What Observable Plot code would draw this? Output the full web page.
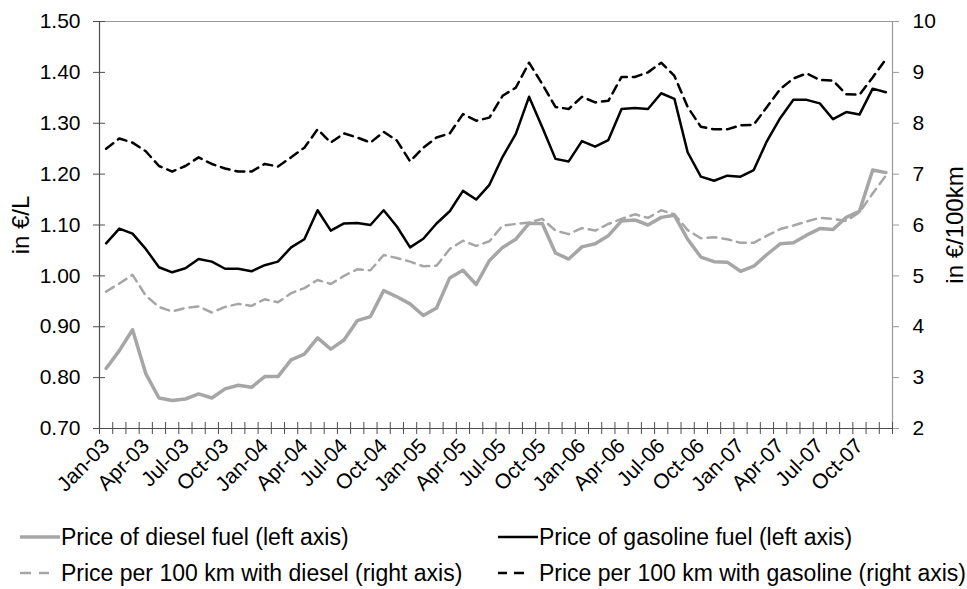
<!DOCTYPE html>
<html><head><meta charset="utf-8">
<script src="https://cdn.jsdelivr.net/npm/d3@7"></script>
<script src="https://cdn.jsdelivr.net/npm/@observablehq/plot@0.6"></script>
<style>
body{margin:0;background:#fff;font-family:"Liberation Sans",Arial,sans-serif;}
#wrap{position:relative;width:967px;height:589px;overflow:hidden;}
.leg{position:absolute;display:flex;align-items:center;font-size:23px;line-height:26px;color:#000;white-space:nowrap;}
.leg svg{margin-right:1px;}
</style></head><body><div id="wrap"></div>
<script>
const months = [
 "Jan-03","Feb-03","Mar-03","Apr-03","May-03","Jun-03","Jul-03","Aug-03","Sep-03","Oct-03","Nov-03","Dec-03",
 "Jan-04","Feb-04","Mar-04","Apr-04","May-04","Jun-04","Jul-04","Aug-04","Sep-04","Oct-04","Nov-04","Dec-04",
 "Jan-05","Feb-05","Mar-05","Apr-05","May-05","Jun-05","Jul-05","Aug-05","Sep-05","Oct-05","Nov-05","Dec-05",
 "Jan-06","Feb-06","Mar-06","Apr-06","May-06","Jun-06","Jul-06","Aug-06","Sep-06","Oct-06","Nov-06","Dec-06",
 "Jan-07","Feb-07","Mar-07","Apr-07","May-07","Jun-07","Jul-07","Aug-07","Sep-07","Oct-07","Nov-07","Dec-07"];
const xTickLabels = ["Jan-03","Apr-03","Jul-03","Oct-03","Jan-04","Apr-04","Jul-04","Oct-04","Jan-05","Apr-05",
 "Jul-05","Oct-05","Jan-06","Apr-06","Jul-06","Oct-06","Jan-07","Apr-07","Jul-07","Oct-07"];
const dieselPrice = [
 0.818,0.853,0.894,0.808,0.760,0.755,0.758,0.768,0.760,0.778,
 0.785,0.781,0.802,0.802,0.835,0.846,0.878,0.856,0.874,0.912,
 0.920,0.971,0.959,0.945,0.922,0.937,0.996,1.011,0.983,1.030,
 1.056,1.072,1.103,1.103,1.045,1.033,1.057,1.063,1.079,1.108,
 1.110,1.100,1.115,1.119,1.072,1.037,1.028,1.027,1.009,1.019,
 1.042,1.063,1.065,1.080,1.093,1.091,1.115,1.127,1.208,1.203];
const gasolinePrice = [
 1.064,1.093,1.083,1.053,1.017,1.007,1.015,1.033,1.028,1.014,
 1.014,1.009,1.021,1.028,1.056,1.072,1.129,1.089,1.103,1.104,
 1.100,1.129,1.097,1.056,1.073,1.103,1.127,1.167,1.150,1.179,
 1.234,1.279,1.352,1.292,1.230,1.225,1.265,1.254,1.267,1.328,
 1.330,1.328,1.359,1.348,1.243,1.195,1.187,1.197,1.195,1.208,
 1.265,1.310,1.346,1.346,1.339,1.308,1.322,1.317,1.368,1.361];
const dieselPer100 = [
 4.69,4.85,5.02,4.61,4.39,4.30,4.37,4.40,4.28,4.39,
 4.45,4.41,4.54,4.48,4.66,4.76,4.92,4.84,5.00,5.13,
 5.11,5.41,5.35,5.28,5.19,5.20,5.53,5.69,5.59,5.68,
 5.99,6.02,6.05,6.12,5.89,5.82,5.94,5.89,6.02,6.12,
 6.21,6.14,6.29,6.21,5.90,5.74,5.76,5.72,5.65,5.65,
 5.79,5.92,5.99,6.07,6.14,6.12,6.08,6.25,6.62,6.97];
const gasolinePer100 = [
 7.50,7.70,7.62,7.45,7.16,7.05,7.16,7.33,7.20,7.11,
 7.05,7.05,7.20,7.15,7.33,7.52,7.88,7.62,7.80,7.72,
 7.62,7.83,7.66,7.25,7.52,7.72,7.80,8.18,8.05,8.11,
 8.54,8.70,9.19,8.77,8.32,8.28,8.52,8.41,8.44,8.91,
 8.91,9.00,9.19,8.93,8.32,7.93,7.88,7.88,7.96,7.97,
 8.32,8.67,8.88,8.98,8.85,8.84,8.57,8.56,8.90,9.26];
const leftTicks = [0.70,0.80,0.90,1.00,1.10,1.20,1.30,1.40,1.50];
const rightTicks = [2,3,4,5,6,7,8,9,10];
const leftTitle = "in €/L";
const rightTitle = "in €/100km";
const legendItems = [
 {label:"Price of diesel fuel (left axis)", color:"#a6a6a6", dash:null, w:3.5, left:20, top:524},
 {label:"Price of gasoline fuel (left axis)", color:"#000", dash:null, w:2.5, left:498, top:524},
 {label:"Price per 100 km with diesel (right axis)", color:"#a6a6a6", dash:"11,8,10,100", w:2.5, left:20, top:560},
 {label:"Price per 100 km with gasoline (right axis)", color:"#000", dash:"9,7,10,100", w:2.5, left:498, top:560}
];

// right axis (2..10) shares the left axis (0.70..1.50) frame
const rightToLeft = r => 0.70 + (r - 2) * 0.10;

const idx = months.map((m, i) => i);
const rows = idx.map(i => ({i, m: months[i], d: dieselPrice[i], g: gasolinePrice[i],
  dr: rightToLeft(dieselPer100[i]), gr: rightToLeft(gasolinePer100[i])}));
const bounds = d3.range(0, months.length + 1).map(k => k - 0.5);
const labelIdx = xTickLabels.map(l => months.indexOf(l));

const axisColor = "#4d4d4d";
const frameGray = "#9a9a9a";

const chart = Plot.plot({
  width: 967, height: 500,
  marginLeft: 99, marginRight: 75, marginTop: 21, marginBottom: 72,
  style: {fontFamily: '"Liberation Sans", Arial, sans-serif', fontSize: "21px", background: "white", color: "black"},
  x: {type: "linear", domain: [-0.5, months.length - 0.5], axis: null},
  y: {domain: [0.70, 1.50], axis: null},
  marks: [
    Plot.ruleY([1.50], {stroke: frameGray, strokeWidth: 1.2}),
    Plot.ruleX([months.length - 0.5], {stroke: frameGray, strokeWidth: 1.2}),
    // tick marks crossing the left and bottom axes, outward on the right axis
    Plot.axisY(leftTicks, {anchor: "left", tickSize: 12, dx: 6, tickFormat: () => "", stroke: axisColor, label: null}),
    Plot.axisY(rightTicks.map(rightToLeft), {anchor: "right", tickSize: 6, tickFormat: () => "", stroke: frameGray, label: null}),
    Plot.axisX(bounds, {anchor: "bottom", tickSize: 12, dy: -6, tickFormat: () => "", stroke: axisColor, label: null}),
    Plot.ruleX([-0.5], {stroke: axisColor, strokeWidth: 1.2}),
    Plot.ruleY([0.70], {stroke: axisColor, strokeWidth: 1.2}),
    Plot.axisY(leftTicks, {anchor: "left", tickSize: 0, tickPadding: 19, tickFormat: d => d.toFixed(2), fill: "black", label: null}),
    Plot.axisY(rightTicks.map(rightToLeft), {anchor: "right", tickSize: 0, tickPadding: 20, tickFormat: (d, i) => String(rightTicks[i]), fill: "black", label: null}),
    Plot.axisX(labelIdx, {anchor: "bottom", tickSize: 0, tickPadding: 14, tickRotate: -45, tickFormat: (d, i) => xTickLabels[i], fill: "black", label: null}),
    Plot.text([leftTitle], {frameAnchor: "left", dx: -78, rotate: -90, textAnchor: "middle", fontSize: 24, fill: "black"}),
    Plot.text([rightTitle], {frameAnchor: "right", dx: 63, rotate: -90, textAnchor: "middle", fontSize: 24, fill: "black"}),
    Plot.line(rows, {x: "i", y: "dr", stroke: "#a6a6a6", strokeWidth: 2.5, strokeDasharray: "9,6"}),
    Plot.line(rows, {x: "i", y: "gr", stroke: "#000", strokeWidth: 2.5, strokeDasharray: "9,6"}),
    Plot.line(rows, {x: "i", y: "d", stroke: "#a6a6a6", strokeWidth: 3.5}),
    Plot.line(rows, {x: "i", y: "g", stroke: "#000", strokeWidth: 2.5})
  ]
});
const wrap = document.getElementById("wrap");
wrap.appendChild(chart);
for (const it of legendItems) {
  const div = document.createElement("div");
  div.className = "leg";
  div.style.left = it.left + "px";
  div.style.top = it.top + "px";
  div.innerHTML = `<svg width="40" height="12"><line x1="0" x2="40" y1="6" y2="6" stroke="${it.color}" stroke-width="${it.w}" ${it.dash ? `stroke-dasharray="${it.dash}"` : ""}/></svg><span>${it.label}</span>`;
  wrap.appendChild(div);
}
</script></body></html>
